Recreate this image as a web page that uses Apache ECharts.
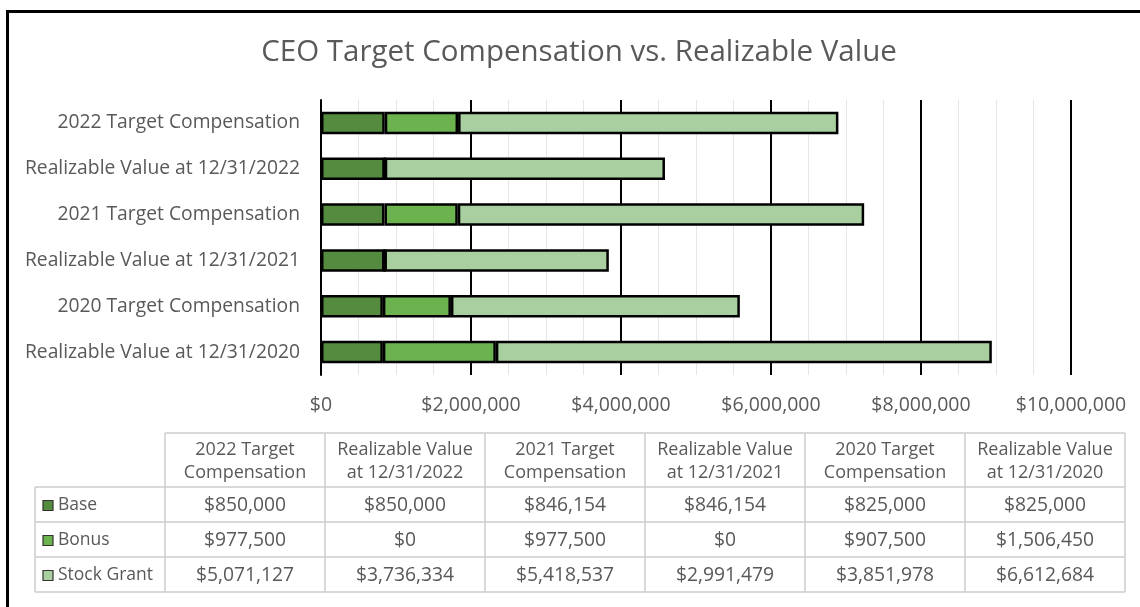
<!DOCTYPE html>
<html>
<head>
<meta charset="utf-8">
<script src="https://cdn.jsdelivr.net/npm/echarts@6/dist/echarts.min.js"></script>
<style>
  html, body { margin: 0; padding: 0; background: #fff; }
  #chart { width: 1140px; height: 607px; }
</style>
</head>
<body>
<div id="chart"></div>
<script>
  // chart data (top to bottom)
  const categories = [
    '2022 Target Compensation',
    'Realizable Value at 12/31/2022',
    '2021 Target Compensation',
    'Realizable Value at 12/31/2021',
    '2020 Target Compensation',
    'Realizable Value at 12/31/2020'
  ]
  const base = [850000, 850000, 846154, 846154, 825000, 825000]
  const bonus = [977500, 0, 977500, 0, 907500, 1506450]
  const stockGrant = [5071127, 3736334, 5418537, 2991479, 3851978, 6612684]
  const seriesNames = ['Base', 'Bonus', 'Stock Grant']
  const seriesColors = ['#548b3e', '#6cb24f', '#a9cea0']

  const FONT = '"Open Sans", sans-serif'
  const TEXT = '#595959'
  const money = v => '$' + v.toLocaleString('en-US')

  // data table under the chart
  const tableTop = 433, headH = 54, rowH = 35
  const labelLeft = 35, colLeft = 165, colW = 160
  const gridColor = '#cccccc'

  function buildTable() {
    const els = []
    const rows = [base, bonus, stockGrant]
    const right = colLeft + colW * categories.length
    const bottom = tableTop + headH + rowH * rows.length
    const line = (x1, y1, x2, y2) => ({
      type: 'line', silent: true,
      shape: { x1, y1, x2, y2 },
      style: { stroke: gridColor, lineWidth: 1.5 }
    })
    // horizontal lines
    els.push(line(colLeft, tableTop, right, tableTop))
    for (let r = 0; r <= rows.length; r++) {
      const y = tableTop + headH + rowH * r
      els.push(line(labelLeft, y, right, y))
    }
    // vertical lines
    els.push(line(labelLeft, tableTop + headH, labelLeft, bottom))
    for (let c = 0; c <= categories.length; c++) {
      const x = colLeft + colW * c
      els.push(line(x, tableTop, x, bottom))
    }
    // headers
    categories.forEach((name, c) => {
      els.push({
        type: 'text', silent: true,
        style: {
          text: name.replace(' Compensation', '\nCompensation').replace(' at ', '\nat '),
          x: colLeft + colW * c + colW / 2,
          y: tableTop + headH / 2 + 1,
          textAlign: 'center', textVerticalAlign: 'middle',
          font: '18px ' + FONT, fill: TEXT, lineHeight: 23
        }
      })
    })
    // rows
    rows.forEach((vals, r) => {
      const cy = tableTop + headH + rowH * r + rowH / 2 + 1
      els.push({
        type: 'rect', silent: true,
        shape: { x: 43, y: cy - 5, width: 10, height: 10 },
        style: { fill: seriesColors[r], stroke: '#333', lineWidth: 1.2 }
      })
      els.push({
        type: 'text', silent: true,
        style: {
          text: seriesNames[r], x: 58, y: cy,
          textAlign: 'left', textVerticalAlign: 'middle',
          font: '17.5px ' + FONT, fill: TEXT
        }
      })
      vals.forEach((v, c) => {
        els.push({
          type: 'text', silent: true,
          style: {
            text: money(v),
            x: colLeft + colW * c + colW / 2, y: cy,
            textAlign: 'center', textVerticalAlign: 'middle',
            font: '19.3px ' + FONT, fill: TEXT
          }
        })
      })
    })
    // outer frame
    els.push({
      type: 'rect', silent: true,
      shape: { x: 7.5, y: 11.5, width: 1200, height: 700 },
      style: { fill: 'none', stroke: '#000', lineWidth: 3 }
    })
    return els
  }

  const chart = echarts.init(document.getElementById('chart'))
  const option = {
    backgroundColor: '#fff',
    textStyle: { fontFamily: FONT },
    title: {
      text: 'CEO Target Compensation vs. Realizable Value',
      left: 574, top: 33, textAlign: 'center',
      textStyle: { fontSize: 29.5, fontWeight: 'normal', color: TEXT, fontFamily: FONT }
    },
    grid: { left: 321, right: 69, top: 100, bottom: 232 },
    xAxis: {
      type: 'value',
      min: 0, max: 10000000, interval: 2000000,
      axisLine: { show: false },
      axisTick: { show: false },
      axisLabel: { formatter: money, fontSize: 19.5, color: TEXT, margin: 20 },
      splitLine: { lineStyle: { color: '#000', width: 2 } },
      minorTick: { show: false, splitNumber: 4 },
      minorSplitLine: { show: true, lineStyle: { color: '#e6e6e6', width: 1 } }
    },
    yAxis: {
      type: 'category',
      inverse: true,
      data: categories,
      axisLine: { lineStyle: { color: '#000', width: 2 } },
      axisTick: { show: false },
      axisLabel: { fontSize: 19.3, color: TEXT, margin: 21 }
    },
    series: [base, bonus, stockGrant].map((d, i) => ({
      name: seriesNames[i],
      type: 'bar',
      stack: 'total',
      barWidth: '49%',
      data: d,
      itemStyle: { color: seriesColors[i], borderColor: '#000', borderWidth: 2.5 }
    })),
    graphic: buildTable()
  }
  chart.setOption(option)
  window.addEventListener('resize', () => chart.resize())
</script>
</body>
</html>
